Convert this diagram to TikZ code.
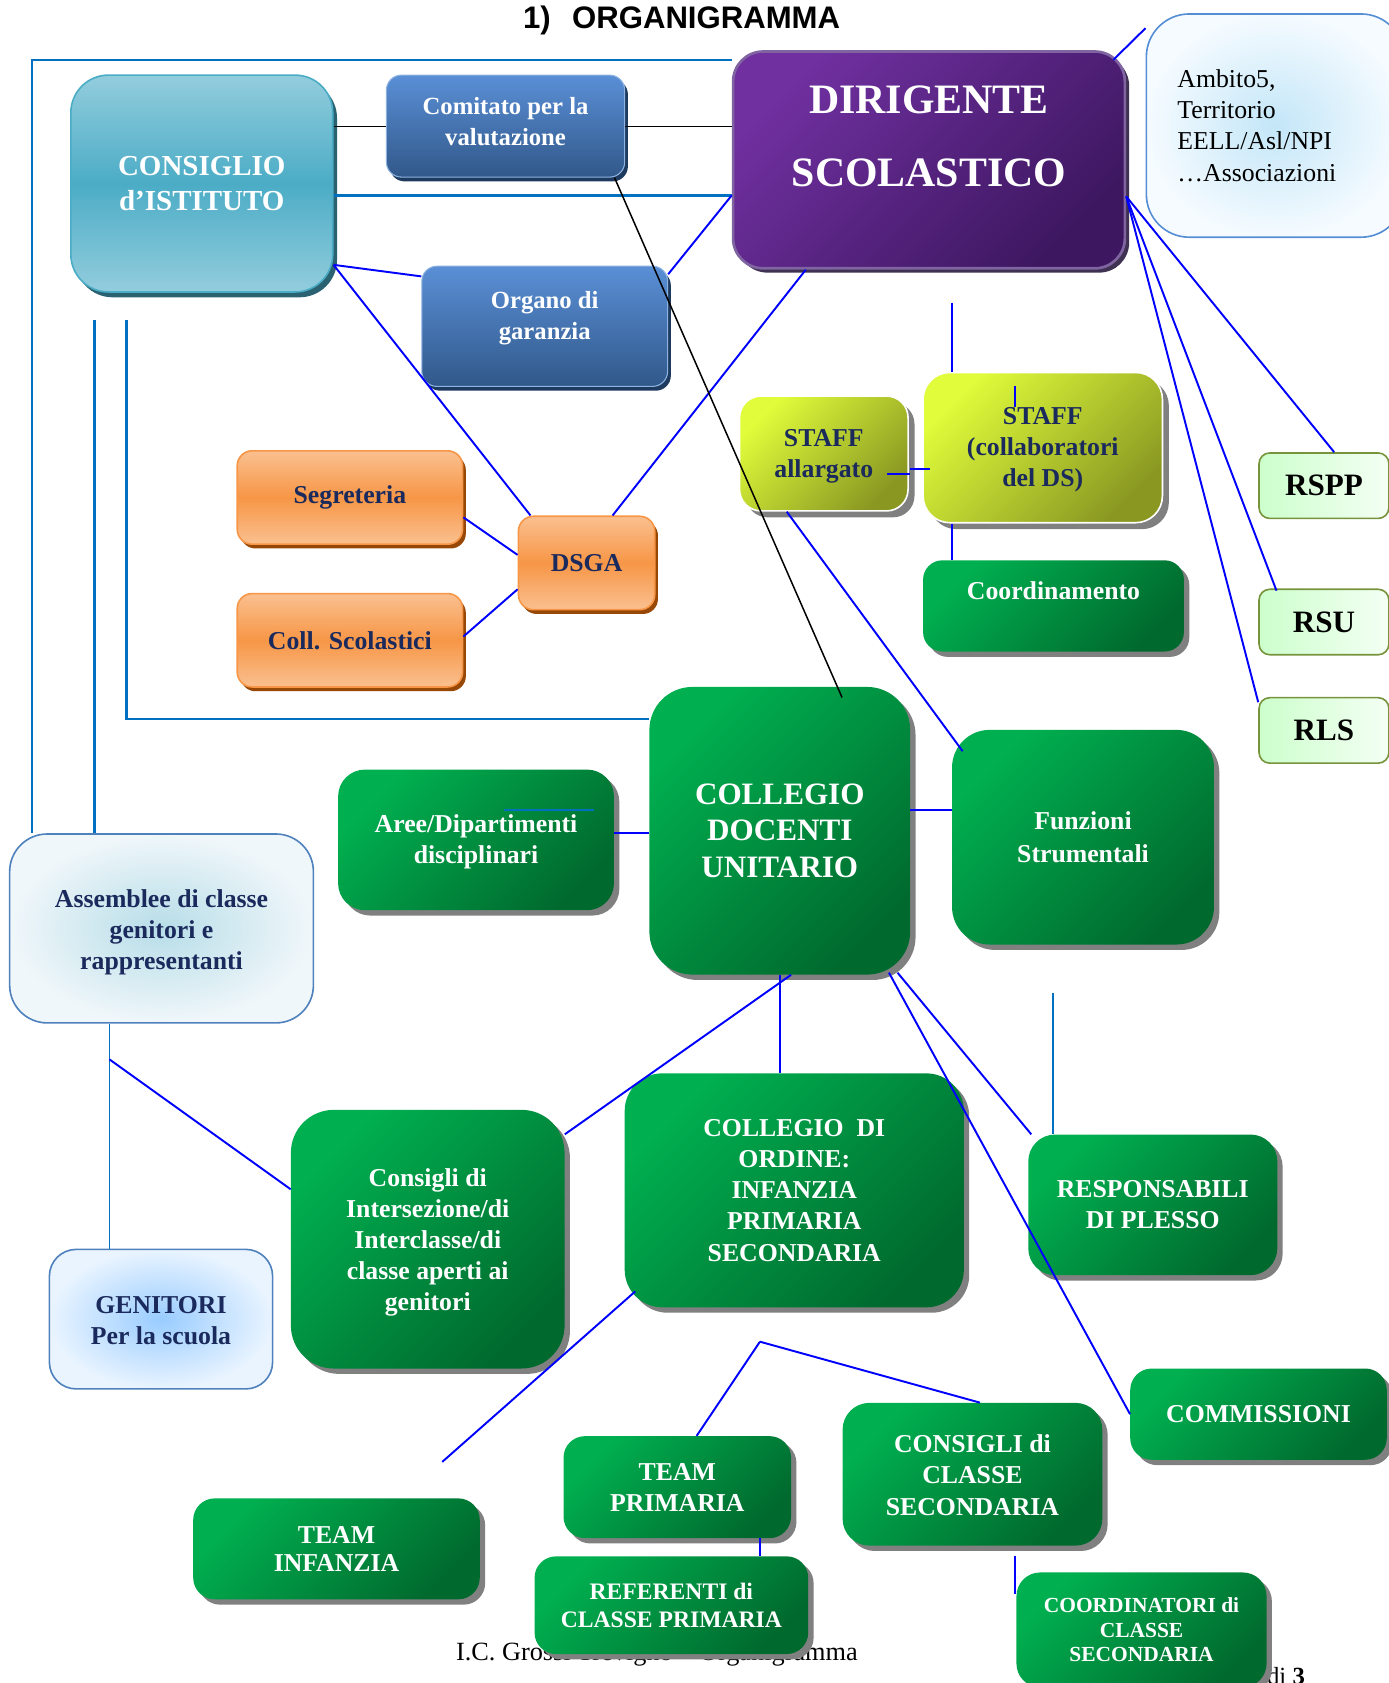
\documentclass[tikz,border=0pt]{standalone}
\usepackage{fontspec}
\setmainfont{Liberation Serif}
\newfontfamily\arialfam{Liberation Sans}
\usetikzlibrary{shadows}
\newcommand\myfs[2]{\fontsize{#1}{#2}\selectfont}
\newcommand\upt[2]{\raisebox{#1}[0pt][0pt]{\begin{tabular}{@{}c@{}}#2\end{tabular}}}
\definecolor{gA}{HTML}{00B050}
\definecolor{gB}{HTML}{006A2E}
\definecolor{shgray}{HTML}{808080}
\definecolor{blA}{HTML}{5A8FD6}
\definecolor{blB}{HTML}{31588A}
\definecolor{blE}{HTML}{8DB3E2}
\definecolor{blS}{HTML}{1F3A5F}
\definecolor{pA}{HTML}{7030A0}
\definecolor{pB}{HTML}{3D1760}
\definecolor{pE}{HTML}{8064A2}
\definecolor{pS}{HTML}{3F3151}
\definecolor{tA}{HTML}{93CDDD}
\definecolor{tB}{HTML}{4BACC6}
\definecolor{tS}{HTML}{2A6272}
\definecolor{orA}{HTML}{FAC090}
\definecolor{orB}{HTML}{F79646}
\definecolor{orS}{HTML}{974706}
\definecolor{yA}{HTML}{E0FC3A}
\definecolor{yB}{HTML}{8A9822}
\definecolor{lgA}{HTML}{CCFFCC}
\definecolor{lgB}{HTML}{F4FFF4}
\definecolor{lgE}{HTML}{77933C}
\definecolor{amI}{HTML}{C3E6F8}
\definecolor{amO}{HTML}{F5FBFF}
\definecolor{amE}{HTML}{558ED5}
\definecolor{asI}{HTML}{B7DDE8}
\definecolor{asO}{HTML}{F0F7FA}
\definecolor{asE}{HTML}{4F81BD}
\definecolor{geI}{HTML}{99CCFF}
\definecolor{geO}{HTML}{E9F4FF}
\definecolor{navy}{HTML}{1B2A5C}
\definecolor{oblue}{HTML}{0070C0}
\definecolor{pureblue}{HTML}{0000FF}
\begin{document}
\begin{tikzpicture}[x=1pt,y=-1pt,
 box/.style={rectangle, align=center, inner sep=0pt, font=\bfseries\myfs{24}{29}},
 gbox/.style={box, rounded corners=22pt, text=white, top color=gA, bottom color=gB, shading angle=45,
   general shadow={fill=shgray, shadow xshift=5pt, shadow yshift=-5pt}},
 bbox/.style={box, rounded corners=14pt, text=white, top color=blA, bottom color=blB, draw=blE, line width=1pt,
   font=\bfseries\myfs{23}{29}, general shadow={fill=blS, shadow xshift=3pt, shadow yshift=-4pt}},
 dsbox/.style={box, rounded corners=28pt, text=white, top color=pA, bottom color=pB, shading angle=45, draw=pE, line width=2.5pt,
   font=\bfseries\myfs{39}{68}, general shadow={fill=pS, shadow xshift=4pt, shadow yshift=-4pt}},
 tbox/.style={box, rounded corners=35pt, text=white, top color=tA, bottom color=tA, middle color=tB, draw=tB, line width=1.5pt,
   font=\bfseries\myfs{27}{33}, general shadow={fill=tS, shadow xshift=4pt, shadow yshift=-5pt}},
 obox/.style={box, rounded corners=14pt, text=navy, top color=orA, bottom color=orA, middle color=orB, draw=orB, line width=1.5pt,
   general shadow={fill=orS, shadow xshift=3pt, shadow yshift=-4pt}},
 ybox/.style={box, rounded corners=20pt, text=navy, top color=yA, bottom color=yB, shading angle=45, draw=white, line width=1.5pt,
   general shadow={fill=shgray, shadow xshift=6pt, shadow yshift=-6pt}},
 lgbox/.style={box, rounded corners=10pt, text=black, left color=lgA, right color=lgB, draw=lgE, line width=1.5pt,
   font=\bfseries\myfs{29}{34}},
 abox/.style={box, rounded corners=40pt, inner color=amI, outer color=amO, draw=amE, line width=1.5pt, font=\myfs{24}{29}},
 asbox/.style={box, rounded corners=35pt, text=navy, inner color=asI, outer color=asO, draw=asE, line width=1.5pt},
 gebox/.style={box, rounded corners=25pt, text=navy, inner color=geI, outer color=geO, draw=asE, line width=1.5pt},
 cline/.style={draw=pureblue, line width=1.8pt},
 oline/.style={draw=oblue, line width=2.2pt},
 kline/.style={draw=black, line width=1.4pt},
]
\useasboundingbox (0,0) rectangle (1294,1568);

% footer texts (partly hidden by boxes)
\node[font=\myfs{24.5}{29}, anchor=base] (footer) at (612,1547) {I.C. Grossi Trevigno – Organigramma};
\node[font=\myfs{23}{28}, anchor=base west] (pag) at (1177,1569) {di \textbf{3}};

% title
\node[font=\arialfam\bfseries\myfs{29}{34}] (title) at (635,19) {1)\hspace{20pt}ORGANIGRAMMA};

% nodes
\node[tbox, minimum width=244pt, minimum height=202pt] (consiglio) at (188,171) {CONSIGLIO\\d’ISTITUTO};
\node[bbox, minimum width=222pt, minimum height=95pt] (comitato) at (471,117.5) {\upt{-4pt}{Comitato per la\\valutazione}};
\node[dsbox, minimum width=365pt, minimum height=202pt] (ds) at (865.5,149) {\upt{17pt}{DIRIGENTE\\SCOLASTICO}};
\node[abox, minimum width=240pt, minimum height=208pt, text width=182pt, align=left] (ambito) at (1188,117)
  {Ambito5,\\Territorio\\EELL/Asl/NPI\\…Associazioni};
\node[bbox, minimum width=229pt, minimum height=112pt] (organo) at (507.5,304) {\upt{2pt}{Organo di\\garanzia}};

\node[ybox, minimum width=157pt, minimum height=107pt] (staffA) at (767.5,422.5) {\upt{-8pt}{STAFF\\allargato}};
\node[ybox, minimum width=223pt, minimum height=140pt, rounded corners=25pt] (staffC) at (971.5,417) {\upt{-8pt}{STAFF\\(collaboratori\\del DS)}};
\node[gbox, minimum width=243pt, minimum height=85pt, rounded corners=18pt] (coord) at (981.5,564.5) {\upt{6pt}{Coordinamento}};

\node[lgbox, minimum width=121pt, minimum height=61pt] (rspp) at (1233.5,452.5) {RSPP};
\node[lgbox, minimum width=121pt, minimum height=61pt] (rsu) at (1233.5,579.5) {RSU};
\node[lgbox, minimum width=121pt, minimum height=61pt] (rls) at (1233.5,680.5) {RLS};

\node[obox, minimum width=127pt, minimum height=87pt] (dsga) at (546.5,524.5) {DSGA};
\node[obox, minimum width=210pt, minimum height=87pt] (segreteria) at (326,463.5) {\upt{-6pt}{Segreteria}};
\node[obox, minimum width=210pt, minimum height=87pt] (coll) at (326,596.5) {Coll. Scolastici};

\node[gbox, minimum width=243pt, minimum height=268pt, rounded corners=40pt, font=\bfseries\myfs{29}{34}] (collegio) at (726.5,774) {COLLEGIO\\DOCENTI\\UNITARIO};
\node[gbox, minimum width=244pt, minimum height=200pt, rounded corners=35pt, font=\bfseries\myfs{24}{30}] (funzioni) at (1009,780) {Funzioni\\Strumentali};
\node[gbox, minimum width=257pt, minimum height=131pt, rounded corners=25pt] (aree) at (443.5,782.5) {\upt{-8pt}{Aree/Dipartimenti\\disciplinari}};

\node[asbox, minimum width=283pt, minimum height=176pt] (assemblee) at (150.5,865) {\upt{-10pt}{Assemblee di classe\\genitori e\\rappresentanti}};
\node[gebox, minimum width=208pt, minimum height=130pt] (genitori) at (150,1229) {\upt{-9.5pt}{GENITORI\\Per la scuola}};

\node[gbox, minimum width=255pt, minimum height=241pt, rounded corners=40pt] (consigli) at (398.5,1154.5) {\upt{-9pt}{Consigli di\\Intersezione/di\\Interclasse/di\\classe aperti ai\\genitori}};
\node[gbox, minimum width=316pt, minimum height=218pt, rounded corners=35pt] (ordine) at (740,1109) {COLLEGIO\ \ DI\\ORDINE:\\INFANZIA\\PRIMARIA\\SECONDARIA};
\node[gbox, minimum width=232pt, minimum height=131pt, rounded corners=25pt] (resp) at (1074,1122.5) {RESPONSABILI\\DI PLESSO};
\node[gbox, minimum width=239pt, minimum height=85pt, rounded corners=20pt] (commissioni) at (1172.5,1317.5) {COMMISSIONI};

\node[gbox, minimum width=267pt, minimum height=94pt, rounded corners=20pt, font=\bfseries\myfs{24}{26}] (teamI) at (313.5,1443) {TEAM\\INFANZIA};
\node[gbox, minimum width=212pt, minimum height=95pt, rounded corners=20pt] (teamP) at (631,1385.5) {TEAM\\PRIMARIA};
\node[gbox, minimum width=242pt, minimum height=133pt, rounded corners=25pt] (consCl) at (906,1373.5) {\upt{-9.5pt}{CONSIGLI di\\CLASSE\\SECONDARIA}};
\node[gbox, minimum width=255pt, minimum height=91pt, rounded corners=20pt, font=\bfseries\myfs{22}{26}] (ref) at (625.5,1495.5) {REFERENTI di\\CLASSE PRIMARIA};
\node[gbox, minimum width=233pt, minimum height=107pt, rounded corners=22pt, font=\bfseries\myfs{20}{23}] (coordCl) at (1063.5,1518.5) {COORDINATORI di\\CLASSE\\SECONDARIA};

% connectors
\coordinate (tl) at (30,56);
\draw[oline] (tl |- assemblee.north) -- (tl) -- (ds.west |- tl);
\coordinate (v1) at (88,298);
\draw[oline] (v1) -- (v1 |- assemblee.north);
\coordinate (v2) at (118,298);
\coordinate (h2) at (0,670);
\draw[oline] (v2) |- (collegio.west |- h2);

\coordinate (y118) at (0,118);
\draw[kline] (consiglio.east |- y118) -- (comitato.west |- y118);
\draw[kline] (comitato.east |- y118) -- (ds.west |- y118);
\coordinate (y182) at (0,182);
\draw[oline] (consiglio.east |- y182) -- (ds.west |- y182);

\coordinate (cse) at ([yshift=26pt]consiglio.south east);
\draw[cline] (cse) -- ([yshift=-10pt]organo.north west);
\draw[cline] (cse) -- ([xshift=12pt]dsga.north west);
\draw[cline] ([yshift=-8pt]organo.north east) -- (ds.west |- y182);
\draw[cline] ([xshift=69pt]ds.south west) -- ([xshift=-40pt]dsga.north east);
\draw[kline] ([xshift=-10pt]comitato.south east) -- ([xshift=58pt,yshift=-10pt]collegio.north);

\draw[cline] ([yshift=-18.5pt]segreteria.east) -- ([yshift=7.5pt]dsga.west);
\draw[cline] ([yshift=3.5pt]coll.east) -- ([yshift=-24.5pt]dsga.west);

\coordinate (s1) at (887,282);
\draw[cline] (s1) -- (s1 |- staffC.north);
\draw[cline] (s1 |- staffC.south) -- (s1 |- coord.north);
\draw[cline] ([xshift=-25.5pt,yshift=-13pt]staffC.north) -- ++(0,20);
\draw[cline] ([xshift=-20pt,yshift=-19.5pt]staffA.east) -- ++(21,0);
\draw[cline] ([xshift=1pt,yshift=-14.5pt]staffA.east) -- ([xshift=7pt,yshift=-20pt]staffC.west);
\draw[cline] ([xshift=-34.5pt]staffA.south) -- ([xshift=10pt,yshift=-20pt]funzioni.north west);

\coordinate (dsr) at ([yshift=-34pt]ds.east);
\draw[cline] (dsr) -- ([xshift=9.5pt]rspp.north);
\draw[cline] (dsr) -- ([xshift=17pt,yshift=-2pt]rsu.north west);
\draw[cline] (dsr) -- ([yshift=-5pt]rls.north west);
\draw[cline] ([xshift=-12pt,yshift=-9pt]ds.north east) -- ([yshift=-14pt]ambito.north west);

\coordinate (y755) at (0,755);
\draw[cline] (collegio.east |- y755) -- (funzioni.west |- y755);
\coordinate (y776) at (0,776);
\draw[cline] (aree.east |- y776) -- (collegio.west |- y776);
\draw[oline, line width=1.5pt] ([xshift=26.5pt,yshift=-38pt]aree.north) -- ++(83,0);

\coordinate (g1) at ([xshift=-48.5pt]assemblee.south);
\draw[oline, line width=1.5pt] (g1) -- (g1 |- genitori.north);
\coordinate (g2) at (102,987);
\draw[cline] (g2) -- ([yshift=46.5pt]consigli.west);

\draw[cline] ([xshift=10.5pt]collegio.south) -- ([yshift=-23pt]consigli.north east);
\draw[cline] (collegio.south) -- (collegio.south |- ordine.north);
\draw[cline] ([xshift=-20pt,yshift=2pt]collegio.south east) -- (commissioni.west);
\draw[cline] ([xshift=-12pt,yshift=2pt]collegio.south east) -- ([xshift=3pt]resp.north west);
\coordinate (r1) at (981,925);
\draw[oline, line width=1.5pt] (r1) -- (r1 |- resp.north);

\coordinate (fe1) at (412,1362);
\draw[cline] ([xshift=10pt,yshift=15pt]ordine.south west) -- (fe1);
\coordinate (fork) at (708,1250);
\draw[cline] (fork) -- ([xshift=18pt]teamP.north);
\draw[cline] (fork) -- ([xshift=7pt]consCl.north);
\draw[cline] ([xshift=77pt]teamP.south) -- ([xshift=82.5pt]ref.north);
\coordinate (c1) at (946,1450);
\draw[cline] (c1) -- ++(0,35);
\end{tikzpicture}
\end{document}
